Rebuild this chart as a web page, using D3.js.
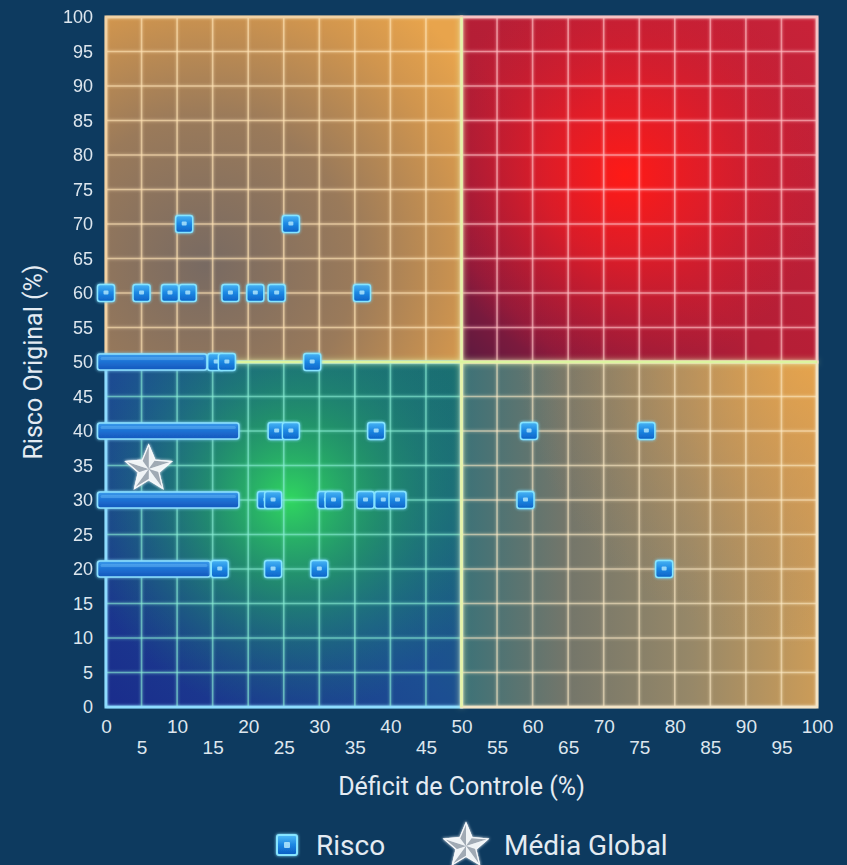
<!DOCTYPE html>
<html>
<head>
<meta charset="utf-8">
<script src="https://cdn.jsdelivr.net/npm/d3@7"></script>
<style>
  html, body { margin: 0; padding: 0; background: #0d3a5f; }
  svg { display: block; font-family: Roboto, "Noto Sans", sans-serif; }
</style>
</head>
<body>
<svg id="chart" width="847" height="865"></svg>
<script>
// ---- data ----
const xTicks = d3.range(0, 101, 5);
const yTicks = d3.range(0, 101, 5);

// individual risks: control deficit (%) and original risk (%)
const riskDeficit = [11, 26,
  0, 5, 9, 11.5, 17.5, 21, 24, 36,
  15.5, 17, 29,
  24, 26, 38, 59.5, 76,
  22.5, 23.5, 31, 32, 36.5, 39, 41, 59,
  16, 23.5, 30, 78.5];
const riskOriginal = [70, 70,
  60, 60, 60, 60, 60, 60, 60, 60,
  50, 50, 50,
  40, 40, 40, 40, 40,
  30, 30, 30, 30, 30, 30, 30, 30,
  20, 20, 20, 20];

// dense runs of risks on one level that merge into a single band
const runLevel = [50, 40, 30, 20];
const runFrom = [0, 0, 0, 0];
const runTo = [13, 17.5, 17.5, 13.5];

// global average (deficit, risk)
const globalMean = [6, 34.5];
const split = 50;

// ---- layout ----
const W = 847, H = 865;
const svg = d3.select("#chart");
const x = d3.scaleLinear().domain([0, 100]).range([106, 817]);
const y = d3.scaleLinear().domain([0, 100]).range([707, 17]);
const markerSize = 17;

svg.append("rect").attr("width", W).attr("height", H).attr("fill", "#0d3a5f");

const defs = svg.append("defs");

function linear(id, x1, y1, x2, y2, stops) {
  const g = defs.append("linearGradient").attr("id", id)
    .attr("gradientUnits", "userSpaceOnUse")
    .attr("x1", x1).attr("y1", y1).attr("x2", x2).attr("y2", y2);
  stops.forEach(s => g.append("stop").attr("offset", s[0]).attr("stop-color", s[1]).attr("stop-opacity", s[2] == null ? 1 : s[2]));
}
function radial(id, cx, cy, r, stops) {
  const g = defs.append("radialGradient").attr("id", id)
    .attr("gradientUnits", "userSpaceOnUse")
    .attr("cx", cx).attr("cy", cy).attr("r", r);
  stops.forEach(s => g.append("stop").attr("offset", s[0]).attr("stop-color", s[1]).attr("stop-opacity", s[2] == null ? 1 : s[2]));
}

// quadrant extents in data space
const quads = [
  { id: "tl", x0: 0, x1: split, y0: split, y1: 100, grid: "rgba(255,228,180,0.62)", edge: "#f2d2a4" },
  { id: "tr", x0: split, x1: 100, y0: split, y1: 100, grid: "rgba(255,190,195,0.62)", edge: "#f6c2c4" },
  { id: "bl", x0: 0, x1: split, y0: 0, y1: split, grid: "rgba(140,240,215,0.58)", edge: "#8edcff" },
  { id: "br", x0: split, x1: 100, y0: 0, y1: split, grid: "rgba(255,236,200,0.55)", edge: "#f3e4c6" }
];

// gradients for each quadrant
radial("tlBase", x(14), y(64), 330, [[0, "#786a62"], [0.45, "#9a7a5a"], [0.8, "#d0954e"], [1, "#e8a44c"]]);
linear("trBase", x(100), y(100), x(50), y(50), [[0, "#c82238"], [0.55, "#b41e36"], [0.85, "#8a1a3c"], [1, "#5a1a40"]]);
radial("trGlow", x(73), y(77), 200, [[0, "#ff1a16", 1], [0.4, "#f01c22", 0.7], [1, "#d81c2c", 0]]);
linear("blBase", x(0), y(0), x(50), y(50), [[0, "#1a2c8c"], [0.5, "#1c4e92"], [1, "#1a7070"]]);
radial("blGlow", x(26), y(30), 215, [[0, "#30d660", 1], [0.4, "#24aa5e", 0.65], [1, "#1a8070", 0]]);
linear("brBase", x(50), y(25), x(100), y(25), [[0, "#3c7278"], [0.3, "#74766a"], [0.65, "#978868"], [1, "#cc9c58"]]);
radial("brGlow", x(100), y(52), 300, [[0, "#eca64a", 0.9], [0.5, "#d89a52", 0.45], [1, "#b08a60", 0]]);

// soft glow filters
function glow(id, std) {
  const f = defs.append("filter").attr("id", id)
    .attr("x", "-50%").attr("y", "-50%").attr("width", "200%").attr("height", "200%");
  f.append("feGaussianBlur").attr("in", "SourceGraphic").attr("stdDeviation", std).attr("result", "b");
  const m = f.append("feMerge");
  m.append("feMergeNode").attr("in", "b");
  m.append("feMergeNode").attr("in", "SourceGraphic");
}
glow("glowSoft", 1.6);
glow("glowWide", 3);

quads.forEach(q => {
  defs.append("clipPath").attr("id", "clip-" + q.id)
    .append("rect")
    .attr("x", x(q.x0) - 2).attr("y", y(q.y1) - 2)
    .attr("width", x(q.x1) - x(q.x0) + 4).attr("height", y(q.y0) - y(q.y1) + 4);
});

const plot = svg.append("g");

// quadrant fills
const fills = {
  tl: ["tlBase"], tr: ["trBase", "trGlow"], bl: ["blBase", "blGlow"], br: ["brBase", "brGlow"]
};
quads.forEach(q => {
  fills[q.id].forEach(f => {
    plot.append("rect")
      .attr("x", x(q.x0)).attr("y", y(q.y1))
      .attr("width", x(q.x1) - x(q.x0)).attr("height", y(q.y0) - y(q.y1))
      .attr("fill", `url(#${f})`);
  });
});

// grid lines, tinted per quadrant
quads.forEach(q => {
  const g = plot.append("g").attr("clip-path", `url(#clip-${q.id})`).attr("filter", "url(#glowSoft)");
  g.selectAll("line.v").data(xTicks.filter(t => t > q.x0 && t < q.x1)).join("line")
    .attr("x1", d => x(d)).attr("x2", d => x(d))
    .attr("y1", y(q.y1)).attr("y2", y(q.y0))
    .attr("stroke", q.grid).attr("stroke-width", 1.6);
  g.selectAll("line.h").data(yTicks.filter(t => t > q.y0 && t < q.y1)).join("line")
    .attr("y1", d => y(d)).attr("y2", d => y(d))
    .attr("x1", x(q.x0)).attr("x2", x(q.x1))
    .attr("stroke", q.grid).attr("stroke-width", 1.6);
  // outer frame of the quadrant
  g.append("rect")
    .attr("x", x(q.x0)).attr("y", y(q.y1))
    .attr("width", x(q.x1) - x(q.x0)).attr("height", y(q.y0) - y(q.y1))
    .attr("fill", "none").attr("stroke", q.edge).attr("stroke-width", 2.6);
});

// quadrant dividers
const divider = plot.append("g").attr("filter", "url(#glowWide)");
divider.append("line")
  .attr("x1", x(split)).attr("x2", x(split)).attr("y1", y(100)).attr("y2", y(0))
  .attr("stroke", "#e4f5a8").attr("stroke-width", 2.4);
divider.append("line")
  .attr("x1", x(0)).attr("x2", x(100)).attr("y1", y(split)).attr("y2", y(split))
  .attr("stroke", "#dcf5a0").attr("stroke-width", 2.4);

// ---- marks ----
linear("markFill", 0, -markerSize / 2, 0, markerSize / 2, [[0, "#48b4f4"], [0.5, "#1c86e2"], [1, "#0c62c6"]]);
defs.append("linearGradient").attr("id", "bandFill").attr("x1", 0).attr("y1", 0).attr("x2", 0).attr("y2", 1)
  .call(g => {
    g.append("stop").attr("offset", 0).attr("stop-color", "#3a9cec");
    g.append("stop").attr("offset", 0.45).attr("stop-color", "#1e74d6");
    g.append("stop").attr("offset", 1).attr("stop-color", "#1656bc");
  });

const bands = plot.append("g").attr("filter", "url(#glowSoft)");
runLevel.forEach((lv, i) => {
  const x0 = x(runFrom[i]) - markerSize / 2;
  const x1 = x(runTo[i]) + markerSize / 2;
  bands.append("rect")
    .attr("x", x0).attr("y", y(lv) - 8)
    .attr("width", x1 - x0).attr("height", 16).attr("rx", 2.5)
    .attr("fill", "url(#bandFill)").attr("stroke", "#8ee2ff").attr("stroke-width", 1.6);
  bands.append("rect")
    .attr("x", x0 + 3).attr("y", y(lv) - 5)
    .attr("width", x1 - x0 - 6).attr("height", 3).attr("rx", 1.5)
    .attr("fill", "#7cc8ff").attr("opacity", 0.35);
});

function drawMarker(g) {
  g.append("rect")
    .attr("x", -markerSize / 2).attr("y", -markerSize / 2)
    .attr("width", markerSize).attr("height", markerSize).attr("rx", 2.5)
    .attr("fill", "url(#markFill)").attr("stroke", "#86e4ff").attr("stroke-width", 1.5);
  g.append("rect")
    .attr("x", -2.5).attr("y", -2.5).attr("width", 5).attr("height", 4).attr("rx", 1)
    .attr("fill", "#bdefff").attr("opacity", 0.75);
}

const risks = riskDeficit.map((d, i) => ({ deficit: d, risk: riskOriginal[i] }));
plot.append("g").attr("filter", "url(#glowSoft)")
  .selectAll("g.risk").data(risks).join("g").attr("class", "risk")
  .attr("transform", d => `translate(${x(d.deficit)},${y(d.risk)})`)
  .each(function () { drawMarker(d3.select(this)); });

// beveled silver star
function drawStar(g, R) {
  const r = R * 0.45;
  const pts = d3.range(10).map(k => {
    const a = -Math.PI / 2 + k * Math.PI / 5;
    const rr = k % 2 === 0 ? R : r;
    return [rr * Math.cos(a), rr * Math.sin(a)];
  });
  g.append("polygon").attr("points", pts.map(p => p.join(",")).join(" "))
    .attr("fill", "#c8d0d8").attr("stroke", "#eef2f6").attr("stroke-width", 1.2);
  for (let k = 0; k < 10; k++) {
    const a = pts[k], b = pts[(k + 1) % 10];
    const light = (k % 2 === 0);
    g.append("polygon").attr("points", `0,0 ${a.join(",")} ${b.join(",")}`)
      .attr("fill", light ? "#f2f5f8" : "#9ea8b2")
      .attr("opacity", 0.95);
  }
  g.append("polygon").attr("points", pts.map(p => p.join(",")).join(" "))
    .attr("fill", "none").attr("stroke", "#f6f8fa").attr("stroke-width", 1.2);
}
const star = plot.append("g")
  .attr("transform", `translate(${x(globalMean[0])},${y(globalMean[1])})`)
  .attr("filter", "url(#glowSoft)");
drawStar(star, 24);

// ---- axes ----
const tickColor = "#dde6ee";
const yAxis = svg.append("g")
  .attr("transform", `translate(${x(0)},0)`)
  .call(d3.axisLeft(y).tickValues(yTicks).tickSize(0).tickPadding(13));
yAxis.select(".domain").remove();
yAxis.selectAll("text").attr("fill", tickColor).attr("font-size", 18);

const xAxis = svg.append("g")
  .attr("transform", `translate(0,${y(0)})`)
  .call(d3.axisBottom(x).tickValues(xTicks).tickSize(0).tickPadding(0));
xAxis.select(".domain").remove();
xAxis.selectAll("text")
  .attr("fill", tickColor).attr("font-size", 19)
  .attr("y", d => (d % 10 === 0 ? 13 : 34))
  .attr("dy", "0.71em");

svg.append("text")
  .attr("x", x(50)).attr("y", 795)
  .attr("text-anchor", "middle").attr("fill", "#e4ebf2").attr("font-size", 25)
  .text("Déficit de Controle (%)");

svg.append("text")
  .attr("transform", `translate(42,${y(50)}) rotate(-90)`)
  .attr("text-anchor", "middle").attr("fill", "#e4ebf2").attr("font-size", 25)
  .text("Risco Original (%)");

// ---- legend ----
const legend = svg.append("g");
const lm = legend.append("g").attr("transform", "translate(287,845)").attr("filter", "url(#glowSoft)");
lm.append("rect").attr("x", -10).attr("y", -10).attr("width", 20).attr("height", 20).attr("rx", 2)
  .attr("fill", "url(#markFill)").attr("stroke", "#86e4ff").attr("stroke-width", 2);
lm.append("rect").attr("x", -3).attr("y", -3).attr("width", 6).attr("height", 6).attr("rx", 1)
  .attr("fill", "#bdefff").attr("opacity", 0.8);
legend.append("text").attr("x", 316).attr("y", 855).attr("fill", "#e4ebf2").attr("font-size", 28).text("Risco");
const ls = legend.append("g").attr("transform", "translate(466,846)").attr("filter", "url(#glowSoft)");
drawStar(ls, 23);
legend.append("text").attr("x", 504).attr("y", 855).attr("fill", "#e4ebf2").attr("font-size", 28).text("Média Global");
</script>
</body>
</html>
